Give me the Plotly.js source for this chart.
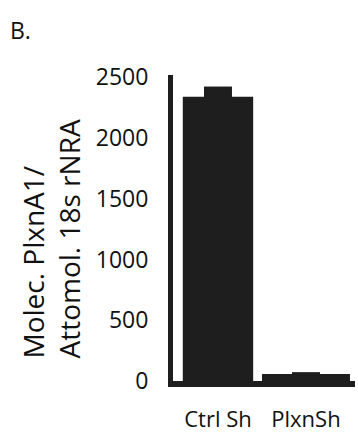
<!DOCTYPE html>
<html>
<head>
<meta charset="utf-8">
<script src="https://cdn.plot.ly/plotly-3.0.1.min.js"></script>
<style>html,body{margin:0;padding:0;background:#fff;}#chart{width:358px;height:434px;}</style>
</head>
<body>
<div id="chart"></div>
<script>
const categories = ['Ctrl Sh', 'PlxnSh'];
const values = [2340, 58];
const errorsPlus = [85, 15];
const errorsMinus = [85, 15];
const yTickValues = [0, 500, 1000, 1500, 2000, 2500];
const yTickLabels = ['0', '500', '1000', '1500', '2000', '2500'];
const panelLabel = 'B.';
const yTitleLines = ['Molec. PlxnA1/', 'Attomol. 18s rNRA'];

const FONT = 'Open Sans, Noto Sans, sans-serif';
const L = 173, R = 3, T = 75, B = 53;
const W = 358, H = 434;
const pw = W - L - R, ph = H - T - B;
const px2x = p => (p - L) / pw;
const px2y = p => (H - B - p) / ph;

const trace = {
  type: 'bar',
  x: [0, 1],
  y: values,
  width: [0.8, 1.0],
  marker: {color: '#1e1e1e', line: {width: 0}},
  error_y: {type: 'data', symmetric: false, array: errorsPlus, arrayminus: errorsMinus,
            color: '#1e1e1e', thickness: 28, width: 0},
  hoverinfo: 'none'
};

const layout = {
  width: W, height: H,
  margin: {l: L, r: R, t: T, b: B},
  paper_bgcolor: '#ffffff', plot_bgcolor: '#ffffff',
  showlegend: false,
  xaxis: {
    range: [-0.511, 1.557],
    tickvals: [0, 1], ticktext: categories,
    showgrid: false, zeroline: false,
    showline: true, linecolor: '#1e1e1e', linewidth: 6,
    ticks: '', ticklabelstandoff: 14,
    tickfont: {family: FONT, size: 22, color: '#111111'},
    fixedrange: true
  },
  yaxis: {
    range: [0, 2520],
    tickvals: yTickValues, ticktext: yTickLabels,
    showgrid: false, zeroline: false,
    showline: true, linecolor: '#1e1e1e', linewidth: 5,
    ticks: '', ticklabelstandoff: 15,
    tickfont: {family: FONT, size: 23, color: '#111111'},
    fixedrange: true
  },
  annotations: [
    {text: panelLabel, xref: 'paper', yref: 'paper', x: px2x(8), y: px2y(12),
     xanchor: 'left', yanchor: 'top', showarrow: false,
     font: {family: FONT, size: 23, color: '#111111'}},
    {text: yTitleLines.join('<br>'), xref: 'paper', yref: 'paper',
     x: px2x(50), y: px2y(360), xanchor: 'center', yanchor: 'bottom',
     textangle: -90, align: 'left', showarrow: false,
     font: {family: FONT, size: 28, color: '#111111'}}
  ]
};

Plotly.newPlot('chart', [trace], layout, {displayModeBar: false, staticPlot: true});
</script>
</body>
</html>
